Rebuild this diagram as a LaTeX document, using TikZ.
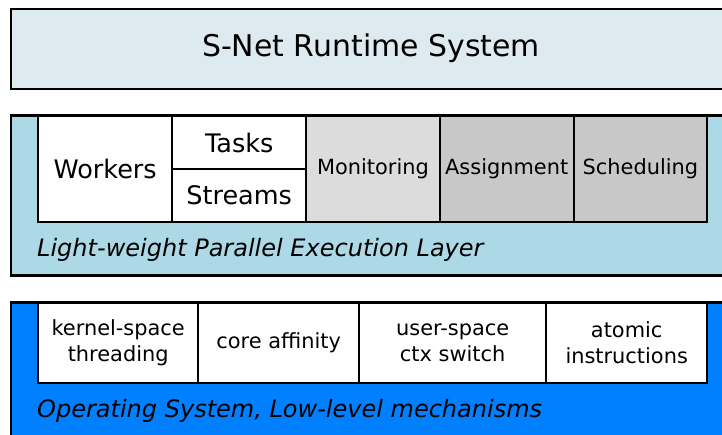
\documentclass[tikz,border=0pt]{standalone}
\usepackage{fontspec}
\setmainfont{DejaVu Sans}
\definecolor{topfill}{HTML}{DDEBF0}
\definecolor{midfill}{HTML}{ADD8E6}
\definecolor{osfill}{HTML}{0080FF}
\definecolor{monfill}{HTML}{DCDCDC}
\definecolor{schedfill}{HTML}{C8C8C8}
\tikzset{
  layer/.style={draw=black, line width=2.4pt, anchor=north west, inner sep=0pt},
  cell/.style={draw=black, line width=2.4pt, fill=white, anchor=north west, inner sep=0pt, align=center},
  bigtxt/.style={font=\fontsize{25.5}{30}\selectfont},
  smalltxt/.style={font=\fontsize{20.9}{26}\selectfont},
  lbl/.style={anchor=west, inner sep=0pt, font=\fontsize{24}{28}\selectfont\itshape}
}
\begin{document}
\begin{tikzpicture}[x=1pt,y=-1pt]
\useasboundingbox (0,0) rectangle (722,435);
\clip (0,0) rectangle (722,435);
% top layer
\node[layer, fill=topfill, minimum width=740, minimum height=80] (snet) at (10,8) {};
\node[font=\fontsize{29.9}{34}\selectfont, inner sep=0pt] (snettxt) at (371,48.5) {S-Net Runtime System};
% middle layer
\node[layer, fill=midfill, minimum width=740, minimum height=160] (lpel) at (10,114.5) {};
\node[cell, bigtxt, minimum width=134, minimum height=106] (workers) at (37,115) {Workers};
\node[cell, bigtxt, minimum width=134, minimum height=53] (tasks) at (171,115) {Tasks};
\node[cell, bigtxt, minimum width=134, minimum height=53] (streams) at (171,168) {Streams};
\node[cell, smalltxt, fill=monfill, minimum width=133.5, minimum height=106] (monitor) at (305,115) {Monitoring};
\node[cell, smalltxt, fill=schedfill, minimum width=134, minimum height=106] (assign) at (438.5,115) {Assignment};
\node[cell, smalltxt, fill=schedfill, minimum width=133.5, minimum height=106] (sched) at (572.5,115) {Scheduling};
\node[lbl] (lpeltxt) at (37,250) {Light-weight Parallel Execution Layer};
% bottom layer
\node[layer, fill=osfill, minimum width=740, minimum height=160] (os) at (10,301.5) {};
\node[cell, smalltxt, minimum width=160, minimum height=80] (kernel) at (37,302) {kernel-space\\threading};
\node[cell, smalltxt, minimum width=161, minimum height=80] (affinity) at (197,302) {core affinity};
\node[cell, smalltxt, minimum width=187, minimum height=80] (ctx) at (358,302) {user-space\\ctx switch};
\node[cell, smalltxt, minimum width=161, minimum height=80] (atomic) at (545,302) {atomic\\instructions};
\node[lbl] (ostxt) at (37,411) {Operating System, Low-level mechanisms};
\end{tikzpicture}
\end{document}
